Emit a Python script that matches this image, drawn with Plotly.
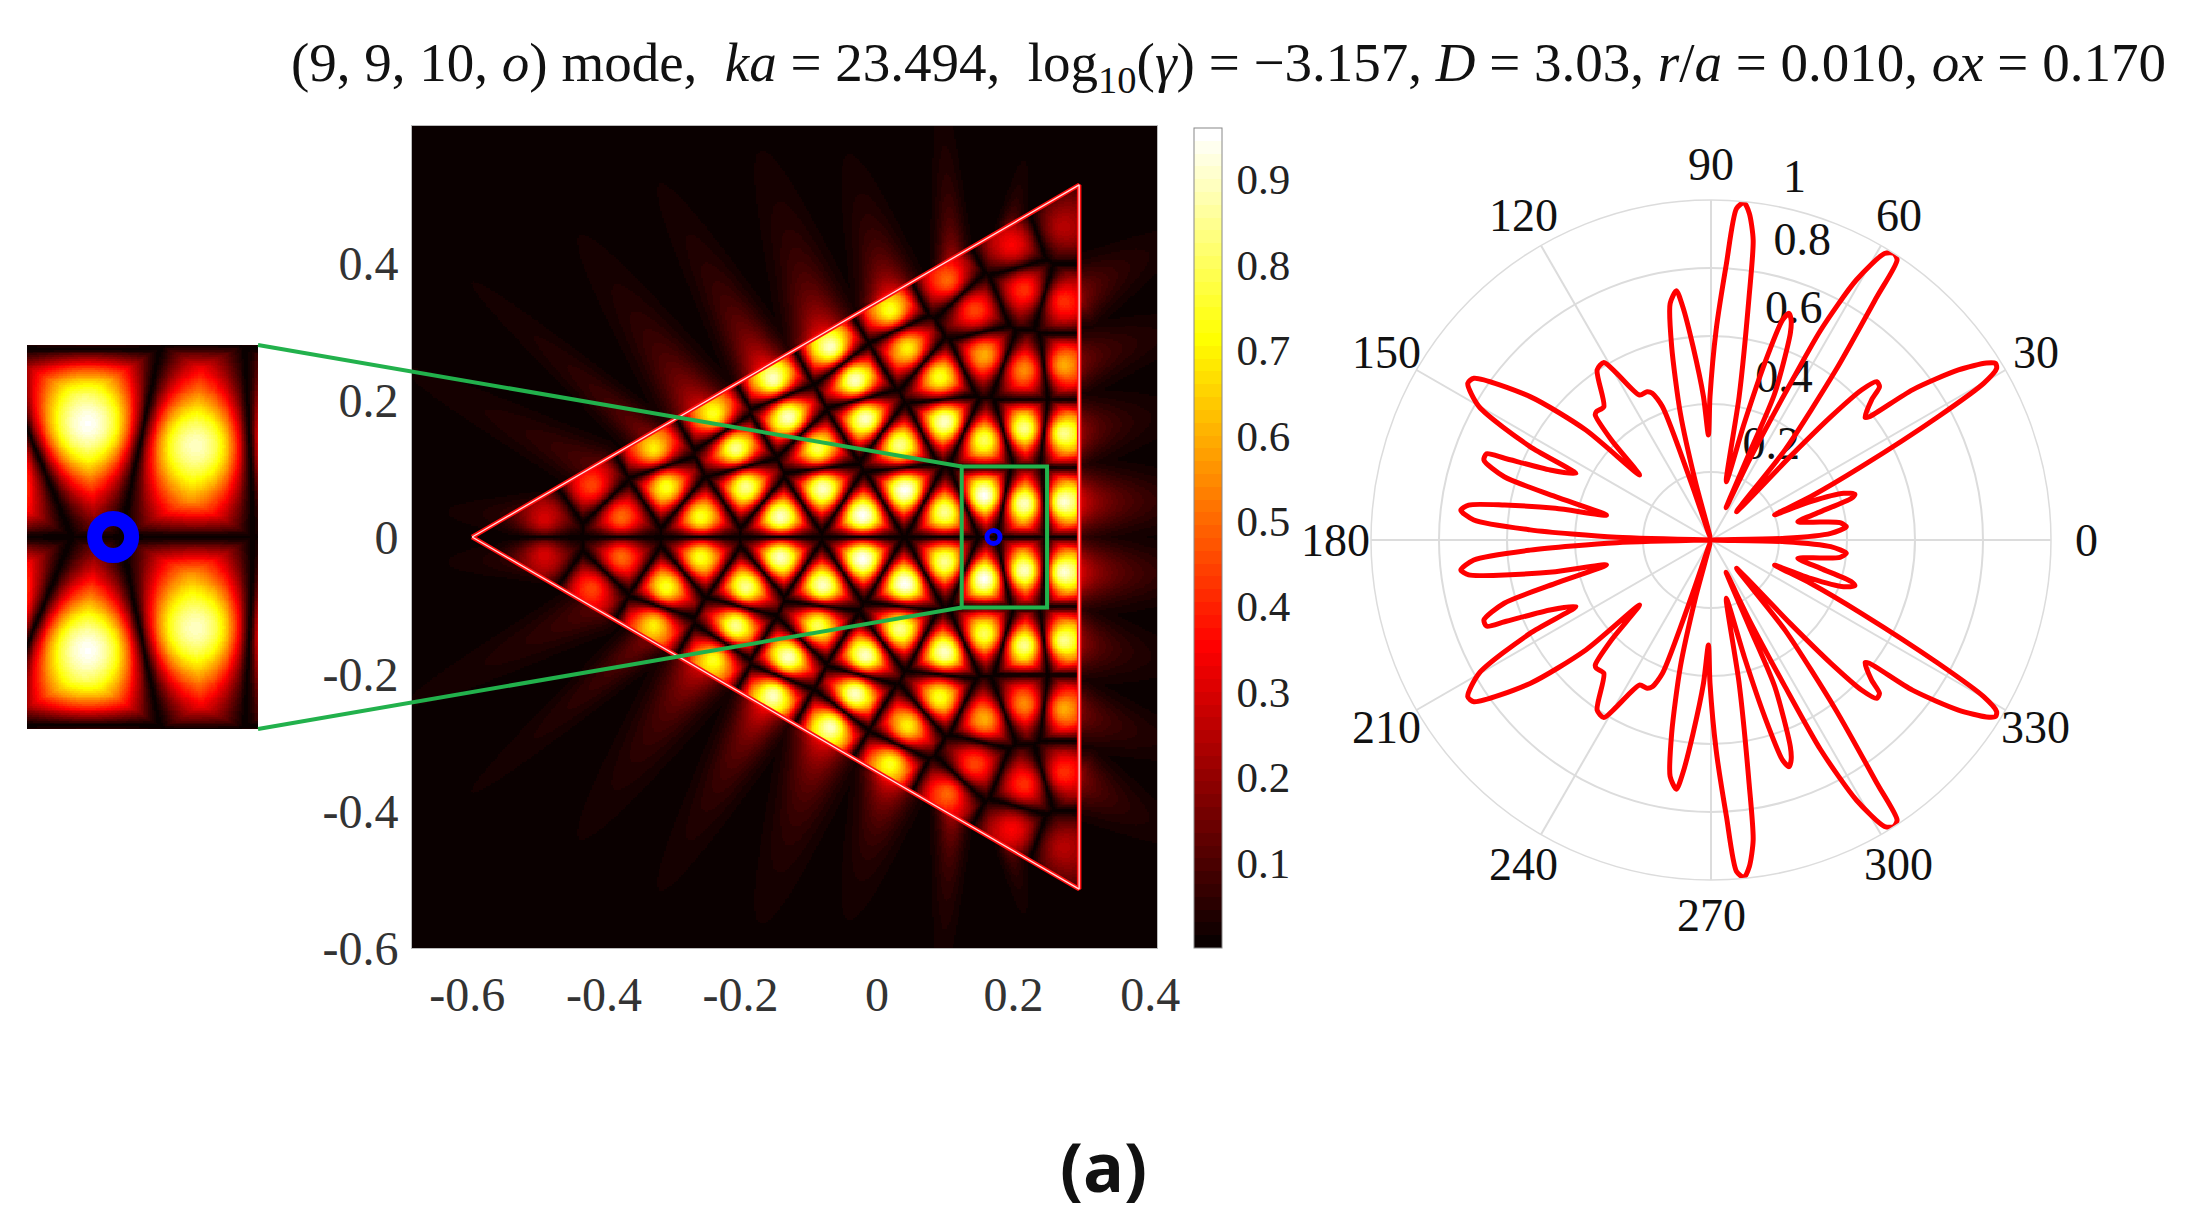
import numpy as np
import plotly.graph_objects as go

W, H = 2200, 1232

# ---- Field lobes (upper half; the pattern is mirror symmetric about y=0).
# The reference image's raw grid is not recoverable, so the heat map is rebuilt from these read peaks.
peak_x = [0.2735,0.2735,0.2735,0.2735,0.2735,0.2152,0.2152,0.2152,0.2152,0.1970,
          0.1570,0.1570,0.1570,0.1424,0.1024,0.0988,0.0988,0.0915,0.0442,0.0187,
          0.0405,0.0332,-0.0177,-0.0323,-0.0687,-0.0214,-0.0796,-0.0869,-0.1306,-0.1524,
          -0.1415,-0.1924,-0.2070,-0.2398,-0.2580,-0.3089,-0.3271,-0.3744,-0.4181,-0.4873]
peak_y = [0.0512,0.1510,0.2509,0.3434,0.4530,0.0488,0.1583,0.2436,0.3604,0.4262,
          0.0609,0.1413,0.2655,0.3312,0.3750,0.0366,0.1681,0.2338,0.2752,0.3312,
          0.0682,0.1340,0.1729,0.2289,0.2776,0.0317,0.0707,0.1291,0.1754,0.2314,
          0.0293,0.0731,0.1291,0.1802,0.0293,0.0731,0.1291,0.0293,0.0755,0.0268]
peak_z = [0.92,0.85,0.60,0.42,0.25,0.90,0.85,0.55,0.42,0.35,
          0.95,0.80,0.60,0.45,0.50,0.85,0.90,0.75,0.70,0.75,
          0.95,0.85,0.90,0.90,0.90,0.95,0.90,0.80,0.90,0.90,
          0.90,0.85,0.85,0.75,0.75,0.75,0.70,0.50,0.45,0.30]

# Evanescent lobes outside the triangle: base on the edge, far tip, edge value, half-width
lobe_bx = [0.1097,0.1970,0.0187,-0.0796,-0.1670,-0.2616,-0.3344,-0.4145,-0.50,0.2954,0.2954,0.2954,0.2954]
lobe_by = [0.4043,0.4578,0.3556,0.2971,0.2484,0.1900,0.1462,0.1023,0.03,0.3556,0.2582,0.1559,0.0512]
lobe_tx = [0.0988,0.2080,-0.0250,-0.1451,-0.2762,-0.3854,-0.5018,-0.5746,-0.5783,0.3972,0.4155,0.4009,0.4727]
lobe_ty = [0.5723,0.5138,0.5017,0.4895,0.4408,0.3677,0.2923,0.1851,0.0341,0.4140,0.2971,0.1754,0.0536]
lobe_a  = [0.24,0.14,0.36,0.36,0.36,0.32,0.18,0.12,0.14,0.20,0.18,0.24,0.34]
lobe_w  = [0.020,0.015,0.034,0.038,0.033,0.037,0.025,0.031,0.025,0.036,0.036,0.040,0.042]

# Triangle outline, inset window, ring
tri_x = [-0.593,0.296,0.296,-0.593]
tri_y = [0.0,0.514,-0.514,0.0]
win_x = [0.124,0.249]
win_y = [-0.103,0.103]
ring_x = [0.1706]
ring_y = [0.0]

# Far-field pattern (upper half, mirrored below)
theta_up = [0,1.3,3.2,5.6,7.65,9.3,11.9,14.5,16.5,17.6,19.4,21.1,21.6,23.5,26,28.5,29.9,31,31.8,32.7,34.5,36.7,37.9,38.5,
            41.1,42.3,43.7,44.9,45.8,46.5,48,50.6,53.7,55.7,56.4,57.5,58.8,60.8,62.4,63.2,64.4,65,66.2,66.5,69,70,71,72,73.1,74.1,75.3,
            78.9,81.1,82,83.3,84.4,85.6,86.8,88.6,90.4,91.4,93,95.3,96.9,97.9,99.8,101.5,103.6,105,107,109,110,111.8,113.3,116.2,119.5,121.1,123.8,
            128.8,131.8,132.8,134.9,137.7,138.7,141.6,145.7,147.2,150.1,152.7,153.8,156.5,158.4,159,160.6,163,164.4,166.6,168.5,170.4,171.8,173.2,175.2,176.8,178.4,180]
r_up = [0,.218,.353,.400,.383,.327,.261,.333,.430,.444,.414,.314,.201,.319,.492,.760,.926,.980,.985,.963,.883,.739,.590,.579,
        .627,.670,.674,.625,.506,.338,.112,.343,.621,.866,.989,1.0,.985,.876,.697,.483,.261,.105,.279,.470,.651,.689,.705,.680,.543,.357,.177,
        .430,.724,.891,.967,.997,.978,.815,.618,.422,.309,.422,.571,.691,.740,.706,.580,.383,.177,.01,.166,.417,.465,.475,.475,.563,.610,.602,
        .503,.506,.501,.415,.284,.490,.679,.844,.851,.787,.599,.443,.516,.653,.707,.708,.636,.475,.316,.467,.616,.720,.741,.700,.533,.278,0]

# Text
x_ticks = [-0.6,-0.4,-0.2,0,0.2,0.4]
x_text = ["-0.6","-0.4","-0.2","0","0.2","0.4"]
y_ticks = [-0.6,-0.4,-0.2,0,0.2,0.4]
y_text = ["-0.6","-0.4","-0.2","0","0.2","0.4"]
cb_ticks = [0.1,0.2,0.3,0.4,0.5,0.6,0.7,0.8,0.9]
ang_ticks = [0,30,60,90,120,150,180,210,240,270,300,330]
ang_text = ["0","30","60","90","120","150","180","210","240","270","300","330"]
ANG_LABEL_R = 1.103
rad_ticks = [0.2,0.4,0.6,0.8,1]
rad_text = ["0.2","0.4","0.6","0.8"]
rad_label_r = [0.325,0.517,0.715,0.912]
rad_label_theta = [57,65.5,70.1,72.9]
top_label = "1"
top_label_r = 1.098
top_label_theta = 77
title = ("(9, 9, 10, <i>o</i>) mode,  <i>ka</i> = 23.494,  log<sub>10</sub>(<i>γ</i>) = −3.157, "
         "<i>D</i> = 3.03, <i>r</i>/<i>a</i> = 0.010, <i>ox</i> = 0.170")

SERIF = "Liberation Serif"
ZMAX = 0.96

# ---- layout boxes in pixels
MAIN = (412, 1157, 126, 948)
INSET = (27, 258, 345, 729)
POLAR = (1371, 2051, 200, 880)
XR = [-0.681, 0.41]
YR = [-0.6, 0.6]

def dom(a, b, size):
    return [a / size, b / size]

def domy(top, bottom):
    return [1 - bottom / H, 1 - top / H]

def hot(n=64):
    out = []
    for i in range(n):
        v = (i + 1) / n
        r = min(1, v / (3 / 8))
        g = min(1, max(0, (v - 3 / 8) / (3 / 8)))
        b = min(1, max(0, (v - 6 / 8) / (2 / 8)))
        c = f"rgb({int(r*255)},{int(g*255)},{int(b*255)})"
        out += [[i / n, c], [(i + 1) / n, c]]
    return out

def inside(x, y):
    ax, ay = tri_x[0], tri_y[0]
    bx, by = tri_x[1], tri_y[1]
    lim = by * (x - ax) / (bx - ax)
    return (x <= bx) & (x >= ax) & (np.abs(y) <= lim)

PX = np.array(peak_x + peak_x, dtype=np.float32)
PY = np.array(peak_y + [-v for v in peak_y], dtype=np.float32)
PZ = np.array(peak_z + peak_z, dtype=np.float32)

def field(xs, ys):
    xs = np.asarray(xs, dtype=np.float32)
    Z = np.zeros((len(ys), len(xs)), dtype=np.float32)
    for j, yv in enumerate(ys):
        d = np.sqrt((xs[None, :] - PX[:, None]) ** 2 + (float(yv) - PY[:, None]) ** 2)
        order = np.argpartition(d, 1, axis=0)
        i1 = order[0]
        cols = np.arange(len(xs))
        d1 = d[i1, cols]
        d2 = d[order[1], cols]
        r = d1 / np.maximum(d2, 1e-6)
        zin = PZ[i1] * (1 - r ** 1.6) ** 1.2 * np.exp(-(d1 / 0.085) ** 2)
        zout = np.zeros_like(zin)
        for bx, by, tx, ty, a, w in zip(lobe_bx, lobe_by, lobe_tx, lobe_ty, lobe_a, lobe_w):
            for sgn in (1, -1):
                ux, uy = tx - bx, sgn * (ty - by)
                L = np.hypot(ux, uy)
                ux, uy = ux / L, uy / L
                px = xs - bx
                py = float(yv) - sgn * by
                along = px * ux + py * uy
                s = np.clip(along / L, 0, None)
                back = np.clip(-along, 0, None)
                t = -px * uy + py * ux
                c = np.log(a / 0.03)
                zout = np.maximum(zout, a * np.exp(-c * s ** 0.75 - (t / w) ** 2 - (back / 0.03) ** 2))
        Z[j] = np.where(inside(xs, float(yv)), zin, zout)
    return Z

x_main = np.arange(XR[0], XR[1] + 0.0025, 0.0025)
y_main = np.arange(YR[0], YR[1] + 0.0025, 0.0025)
z_main = field(x_main, y_main)
x_ins = np.arange(win_x[0], win_x[1] + 0.001, 0.001)
y_ins = np.arange(win_y[0], win_y[1] + 0.001, 0.001)
z_ins = field(x_ins, y_ins)

fig = go.Figure()
fig.add_trace(go.Heatmap(
    x=x_main, y=y_main, z=z_main, zmin=0, zmax=ZMAX, colorscale=hot(), hoverinfo="skip",
    colorbar=dict(x=1194 / W, xanchor="left", xpad=0, ypad=0, y=1 - 948 / H, yanchor="bottom",
                  len=820 / H, lenmode="fraction", thickness=28, thicknessmode="pixels",
                  tickvals=cb_ticks, ticks="outside", ticklen=6, tickcolor="rgba(0,0,0,0)",
                  outlinecolor="#888", outlinewidth=1,
                  tickfont=dict(family=SERIF, size=43, color="#222")),
    xaxis="x", yaxis="y"))
fig.add_trace(go.Scatter(x=tri_x, y=tri_y, mode="lines", line=dict(color="#ff1010", width=4.5), hoverinfo="skip", xaxis="x", yaxis="y"))
fig.add_trace(go.Scatter(x=tri_x, y=tri_y, mode="lines", line=dict(color="#ffe0e0", width=1.3), hoverinfo="skip", xaxis="x", yaxis="y"))
fig.add_trace(go.Scatter(x=ring_x, y=ring_y, mode="markers", hoverinfo="skip", xaxis="x", yaxis="y",
                         marker=dict(symbol="circle-open", size=13, color="#0000ff", line=dict(color="#0000ff", width=5))))
fig.add_trace(go.Heatmap(x=x_ins, y=y_ins, z=z_ins, zmin=0, zmax=ZMAX, colorscale=hot(), showscale=False,
                         hoverinfo="skip", xaxis="x2", yaxis="y2"))
fig.add_trace(go.Scatter(x=ring_x, y=ring_y, mode="markers", hoverinfo="skip", xaxis="x2", yaxis="y2",
                         marker=dict(symbol="circle-open", size=37, color="#0000ff", line=dict(color="#0000ff", width=15))))

polar_font = dict(family=SERIF, size=46, color="#111")
fig.add_trace(go.Scatterpolar(theta=rad_label_theta, r=rad_label_r, text=rad_text, mode="text", textfont=polar_font,
                              textposition="middle center", cliponaxis=False, hoverinfo="skip", subplot="polar"))
theta = theta_up + [360 - t for t in reversed(theta_up)]
radius = r_up + list(reversed(r_up))
fig.add_trace(go.Scatterpolar(theta=theta, r=radius, mode="lines",
                              line=dict(color="#ff0000", width=5, shape="spline", smoothing=0.7),
                              hoverinfo="skip", subplot="polar"))

def xpaper(v):
    return (MAIN[0] + (v - XR[0]) / (XR[1] - XR[0]) * (MAIN[1] - MAIN[0])) / W

def ypaper(v):
    return 1 - (MAIN[3] - (v - YR[0]) / (YR[1] - YR[0]) * (MAIN[3] - MAIN[2])) / H

def polar_paper(r, deg):
    cx, cy, R = (POLAR[0] + POLAR[1]) / 2, (POLAR[2] + POLAR[3]) / 2, (POLAR[1] - POLAR[0]) / 2
    a = np.radians(deg)
    return (cx + R * r * np.cos(a)) / W, 1 - (cy - R * r * np.sin(a)) / H

GREEN = "#22b14c"
shapes = [
    dict(type="rect", xref="x", yref="y", x0=win_x[0], x1=win_x[1], y0=win_y[0], y1=win_y[1], line=dict(color=GREEN, width=4)),
    dict(type="line", xref="paper", yref="paper", x0=INSET[1] / W, y0=1 - INSET[2] / H, x1=xpaper(win_x[0]), y1=ypaper(win_y[1]), line=dict(color=GREEN, width=4)),
    dict(type="line", xref="paper", yref="paper", x0=INSET[1] / W, y0=1 - INSET[3] / H, x1=xpaper(win_x[0]), y1=ypaper(win_y[0]), line=dict(color=GREEN, width=4)),
]

annotations = [
    dict(text=title, xref="paper", yref="paper", x=1228 / W, y=1 - 66 / H, xanchor="center", yanchor="middle",
         showarrow=False, font=dict(family=SERIF, size=55, color="#111")),
    dict(text="<b>(a)</b>", xref="paper", yref="paper", x=1103 / W, y=1 - 1165 / H, xanchor="center", yanchor="middle",
         showarrow=False, font=dict(family="Open Sans", size=68, color="#111")),
]
for deg, label in zip(ang_ticks, ang_text):
    px, py = polar_paper(ANG_LABEL_R, deg)
    annotations.append(dict(text=label, xref="paper", yref="paper", x=px, y=py, xanchor="center", yanchor="middle",
                            showarrow=False, font=polar_font))
px, py = polar_paper(top_label_r, top_label_theta)
annotations.append(dict(text=top_label, xref="paper", yref="paper", x=px, y=py, xanchor="center", yanchor="middle",
                        showarrow=False, font=polar_font))

fig.update_layout(
    width=W, height=H, margin=dict(l=0, r=0, t=0, b=0, autoexpand=False), paper_bgcolor="white", plot_bgcolor="#0b0000",
    showlegend=False, shapes=shapes, annotations=annotations,
    xaxis=dict(domain=dom(MAIN[0], MAIN[1], W), range=XR, tickvals=x_ticks, ticktext=x_text, ticks="outside", ticklen=4,
               tickcolor="rgba(0,0,0,0)", showgrid=False, zeroline=False, showline=True, linecolor="#bbb", mirror=True,
               tickfont=dict(family=SERIF, size=48, color="#333")),
    yaxis=dict(domain=domy(MAIN[2], MAIN[3]), range=YR, tickvals=y_ticks, ticktext=y_text, ticks="outside", ticklen=3,
               tickcolor="rgba(0,0,0,0)", showgrid=False, zeroline=False, showline=True, linecolor="#bbb", mirror=True,
               tickfont=dict(family=SERIF, size=48, color="#333")),
    xaxis2=dict(domain=dom(INSET[0], INSET[1], W), range=win_x, visible=False, anchor="y2"),
    yaxis2=dict(domain=domy(INSET[2], INSET[3]), range=win_y, visible=False, anchor="x2"),
    polar=dict(
        domain=dict(x=dom(POLAR[0], POLAR[1], W), y=domy(POLAR[2], POLAR[3])), bgcolor="white",
        angularaxis=dict(rotation=0, direction="counterclockwise", tickvals=ang_ticks, showticklabels=False,
                         ticks="", linecolor="#dcdcdc", linewidth=1.5, gridcolor="#dcdcdc", gridwidth=1.5),
        radialaxis=dict(range=[0, 1], angle=80, tickvals=rad_ticks, showticklabels=False, ticks="",
                        showline=False, gridcolor="#dcdcdc", gridwidth=1.5, layer="below traces")),
)

fig.write_html("out.html", post_script="document.body.style.margin='0';",
               config={"displayModeBar": False})
